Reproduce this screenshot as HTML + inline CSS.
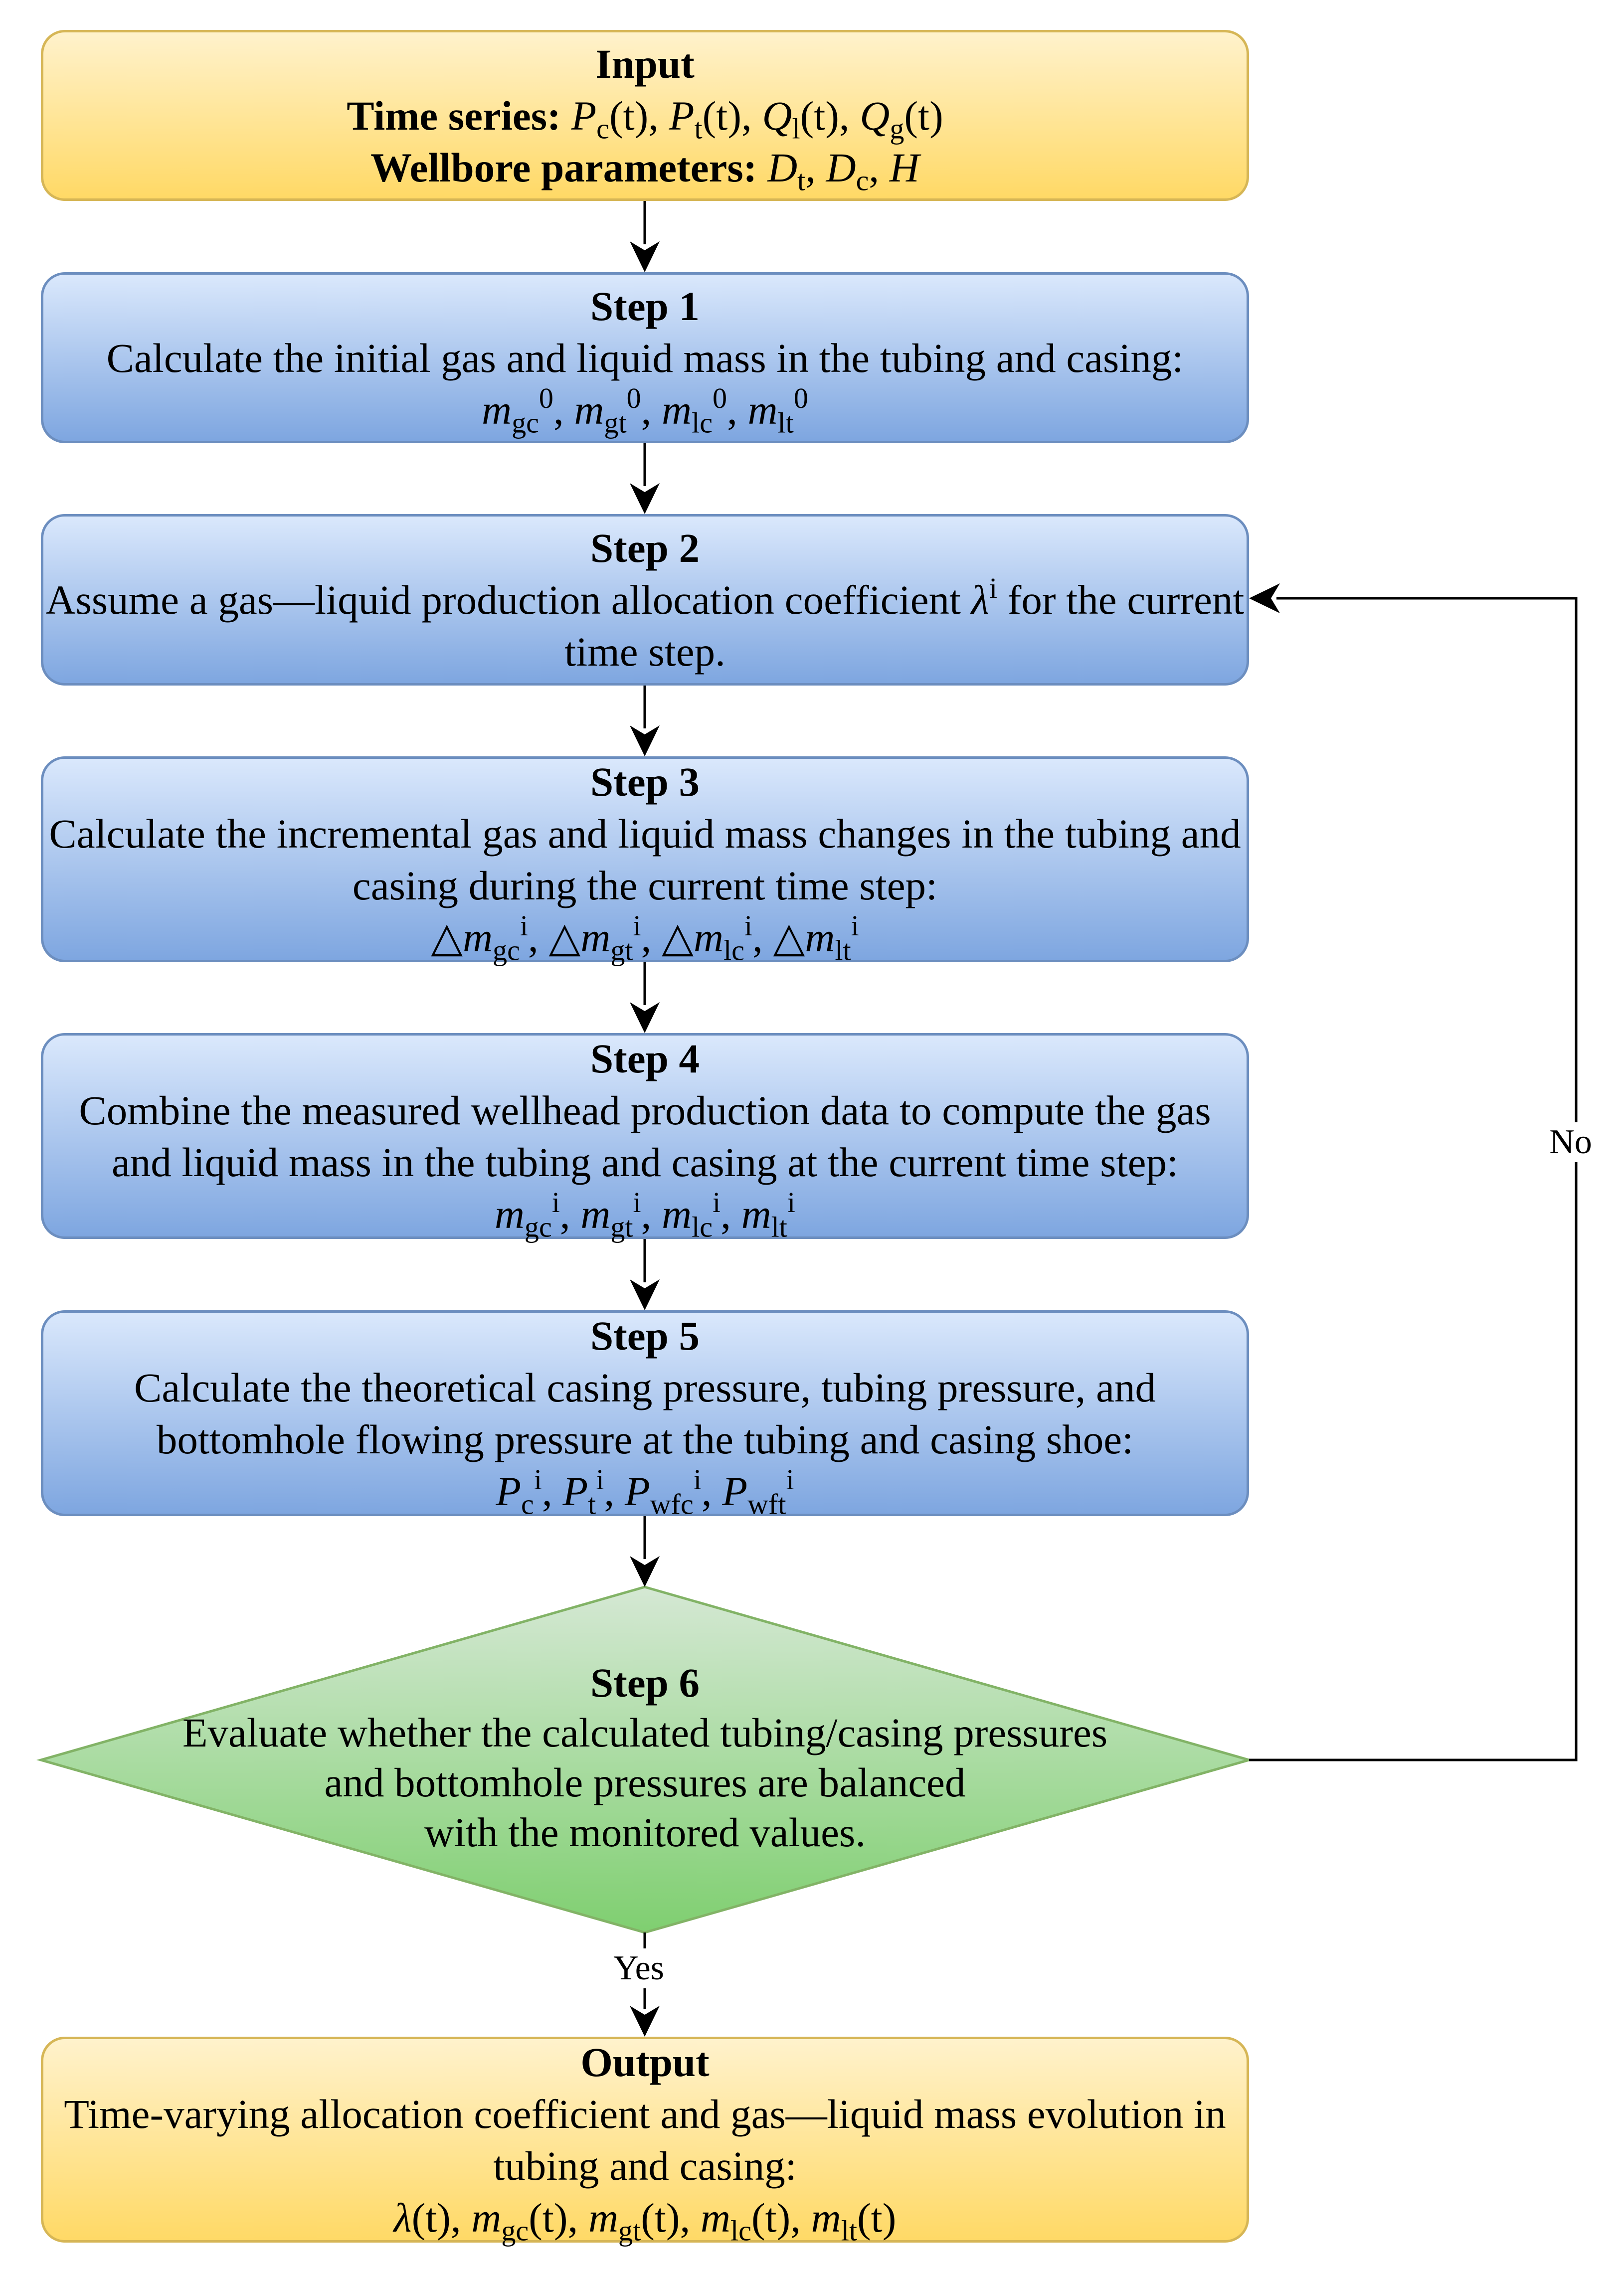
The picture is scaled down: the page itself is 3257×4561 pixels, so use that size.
<!DOCTYPE html>
<html><head><meta charset="utf-8"><style>
body{margin:0;width:3257px;height:4561px;background:#fff;position:relative;overflow:hidden;font-family:"Liberation Serif",serif;color:#000}
.box{position:absolute;left:82px;width:2423px;box-sizing:border-box;border-radius:48px;display:flex;flex-direction:column;justify-content:center;align-items:center;text-align:center;font-size:83px;line-height:104px;white-space:nowrap}
.y{background:linear-gradient(#fff2cc,#ffd966);border:5px solid #d6b656}
.b{background:linear-gradient(#dae8fc,#7ea6e0);border:5px solid #6c8ebf}
b{font-weight:bold}
i{font-style:italic}
sub,sup{font-size:0.7em;line-height:0}
sub{vertical-align:-0.3em}
sup{vertical-align:0.55em}
.lbl{position:absolute;font-size:70px;background:#fff;line-height:80px;transform:translate(-50%,-50%)}
.dt{position:absolute;left:82px;width:2423px;text-align:center;font-size:83px;line-height:100px;top:3325px;white-space:nowrap}
</style></head><body>
<svg width="3257" height="4561" style="position:absolute;left:0;top:0">
<defs><linearGradient id="g" x1="0" y1="0" x2="0" y2="1"><stop offset="0" stop-color="#d5e8d4"/><stop offset="1" stop-color="#7fcf70"/></linearGradient></defs>
<polygon points="1293,3183 2505,3530 1293,3876 82,3530" fill="url(#g)" stroke="#82b366" stroke-width="5"/>
<g stroke="#000" stroke-width="5" fill="none">
<line x1="1293" y1="403" x2="1293" y2="490"/><line x1="1293" y1="889" x2="1293" y2="975"/>
<line x1="1293" y1="1375" x2="1293" y2="1461"/><line x1="1293" y1="1930" x2="1293" y2="2016"/>
<line x1="1293" y1="2485" x2="1293" y2="2572"/><line x1="1293" y1="3041" x2="1293" y2="3127"/>
<line x1="1293" y1="3876" x2="1293" y2="4030"/>
<polyline points="2505,3530 3161,3530 3161,1200 2560,1200"/>
</g>
<g fill="#000">
<path d="M1293,546 l-30,-62 l30,18 l30,-18z"/><path d="M1293,1031 l-30,-62 l30,18 l30,-18z"/>
<path d="M1293,1517 l-30,-62 l30,18 l30,-18z"/><path d="M1293,2072 l-30,-62 l30,18 l30,-18z"/>
<path d="M1293,2628 l-30,-62 l30,18 l30,-18z"/><path d="M1293,3183 l-30,-62 l30,18 l30,-18z"/>
<path d="M1293,4085 l-30,-62 l30,18 l30,-18z"/>
<path d="M2505,1200 l62,-30 l-18,30 l18,30z"/>
</g>
</svg>
<div class="box y" style="top:60px;height:343px"><div><b>Input</b></div><div><b>Time series:</b> <i>P</i><sub>c</sub>(t), <i>P</i><sub>t</sub>(t), <i>Q</i><sub>l</sub>(t), <i>Q</i><sub>g</sub>(t)</div><div><b>Wellbore parameters:</b> <i>D</i><sub>t</sub>, <i>D</i><sub>c</sub>, <i>H</i></div></div>
<div class="box b" style="top:546px;height:343px"><div><b>Step 1</b></div><div>Calculate the initial gas and liquid mass in the tubing and casing:</div><div><i>m</i><sub>gc</sub><sup>0</sup>, <i>m</i><sub>gt</sub><sup>0</sup>, <i>m</i><sub>lc</sub><sup>0</sup>, <i>m</i><sub>lt</sub><sup>0</sup></div></div>
<div class="box b" style="top:1031px;height:344px"><div><b>Step 2</b></div><div>Assume a gas—liquid production allocation coefficient <i>λ</i><sup>i</sup> for the current</div><div>time step.</div></div>
<div class="box b" style="top:1517px;height:413px"><div><b>Step 3</b></div><div>Calculate the incremental gas and liquid mass changes in the tubing and</div><div>casing during the current time step:</div><div>△<i>m</i><sub>gc</sub><sup>i</sup>, △<i>m</i><sub>gt</sub><sup>i</sup>, △<i>m</i><sub>lc</sub><sup>i</sup>, △<i>m</i><sub>lt</sub><sup>i</sup></div></div>
<div class="box b" style="top:2072px;height:413px"><div><b>Step 4</b></div><div>Combine the measured wellhead production data to compute the gas</div><div>and liquid mass in the tubing and casing at the current time step:</div><div><i>m</i><sub>gc</sub><sup>i</sup>, <i>m</i><sub>gt</sub><sup>i</sup>, <i>m</i><sub>lc</sub><sup>i</sup>, <i>m</i><sub>lt</sub><sup>i</sup></div></div>
<div class="box b" style="top:2628px;height:413px"><div><b>Step 5</b></div><div>Calculate the theoretical casing pressure, tubing pressure, and</div><div>bottomhole flowing pressure at the tubing and casing shoe:</div><div><i>P</i><sub>c</sub><sup>i</sup>, <i>P</i><sub>t</sub><sup>i</sup>, <i>P</i><sub>wfc</sub><sup>i</sup>, <i>P</i><sub>wft</sub><sup>i</sup></div></div>
<div class="dt"><div><b>Step 6</b></div><div>Evaluate whether the calculated tubing/casing pressures</div><div>and bottomhole pressures are balanced</div><div>with the monitored values.</div></div>
<div class="box y" style="top:4085px;height:413px"><div><b>Output</b></div><div>Time-varying allocation coefficient and gas—liquid mass evolution in</div><div>tubing and casing:</div><div><i>λ</i>(t), <i>m</i><sub>gc</sub>(t), <i>m</i><sub>gt</sub>(t), <i>m</i><sub>lc</sub>(t), <i>m</i><sub>lt</sub>(t)</div></div>
<div class="lbl" style="left:3150px;top:2291px">No</div>
<div class="lbl" style="left:1281px;top:3948px">Yes</div>
</body></html>
